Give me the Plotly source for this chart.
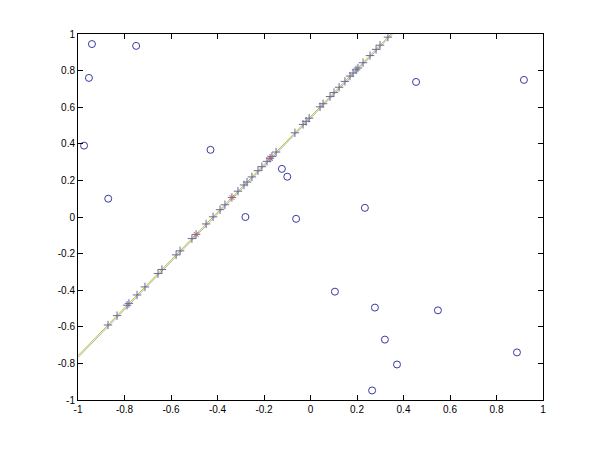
import plotly.graph_objects as go

# Outliers (open circles)
outlier_x = [-0.94, -0.953, -0.974, -0.87, -0.75, -0.43, -0.28, -0.123, -0.10, -0.062,
             0.454, 0.918, 0.234, 0.105, 0.277, 0.32, 0.372, 0.265, 0.548, 0.888]
outlier_y = [0.945, 0.76, 0.39, 0.10, 0.935, 0.367, 0.0, 0.263, 0.22, -0.01,
             0.738, 0.749, 0.05, -0.408, -0.495, -0.67, -0.806, -0.948, -0.51, -0.74]

# Inliers (plus markers along the line)
inlier_x = [-0.871, -0.832, -0.789, -0.781, -0.746, -0.712, -0.656, -0.639, -0.578, -0.561,
            -0.510, -0.492, -0.449, -0.419, -0.389, -0.368, -0.338, -0.312, -0.286, -0.273,
            -0.252, -0.226, -0.209, -0.187, -0.174, -0.166, -0.148, -0.067, -0.032, -0.019,
            -0.006, 0.041, 0.054, 0.084, 0.101, 0.123, 0.148, 0.170, 0.183, 0.196,
            0.204, 0.226, 0.256, 0.282, 0.299, 0.333]
inlier_y = [-0.590, -0.539, -0.482, -0.472, -0.426, -0.382, -0.309, -0.287, -0.207, -0.185,
            -0.118, -0.095, -0.038, 0.001, 0.040, 0.067, 0.107, 0.141, 0.175, 0.191,
            0.219, 0.253, 0.275, 0.304, 0.321, 0.331, 0.355, 0.460, 0.506, 0.523,
            0.540, 0.602, 0.619, 0.658, 0.680, 0.709, 0.741, 0.770, 0.787, 0.804,
            0.814, 0.843, 0.882, 0.916, 0.939, 0.983]

# A few highlighted points (red)
red_x = [-0.492, -0.338, -0.174]
red_y = [-0.095, 0.107, 0.321]

# Fitted lines
line_x = [-1.0, 1.0]
line_true_y = [-0.758, 1.854]
line_fit_y = [-0.768, 1.846]

tick_vals = [-1, -0.8, -0.6, -0.4, -0.2, 0, 0.2, 0.4, 0.6, 0.8, 1]
tick_text = ["-1", "-0.8", "-0.6", "-0.4", "-0.2", "0", "0.2", "0.4", "0.6", "0.8", "1"]

fig = go.Figure()
fig.add_trace(go.Scatter(x=line_x, y=line_true_y, mode="lines",
                         line=dict(color="#9acd32", width=1), showlegend=False))
fig.add_trace(go.Scatter(x=line_x, y=line_fit_y, mode="lines",
                         line=dict(color="#b07070", width=1), opacity=0.6, showlegend=False))
fig.add_trace(go.Scatter(x=outlier_x, y=outlier_y, mode="markers",
                         marker=dict(symbol="circle-open", size=7, color="#3838a0",
                                     line=dict(width=1)), showlegend=False))
fig.add_trace(go.Scatter(x=inlier_x, y=inlier_y, mode="markers",
                         marker=dict(symbol="cross-thin-open", size=6, color="#6a6a9a",
                                     line=dict(width=1, color="#6a6a9a")), showlegend=False))
fig.add_trace(go.Scatter(x=red_x, y=red_y, mode="markers",
                         marker=dict(symbol="x-thin-open", size=5, color="#c06060",
                                     line=dict(width=1, color="#c06060")), showlegend=False))

axis_common = dict(
    tickvals=tick_vals, ticktext=tick_text, ticks="inside", ticklen=5,
    tickcolor="black", showline=True, linecolor="black", linewidth=1,
    mirror="ticks", showgrid=False, zeroline=False,
    tickfont=dict(family="Liberation Sans, Arial", size=10, color="black"),
)

fig.update_layout(
    width=584, height=434,
    margin=dict(l=70, r=49, t=26, b=42),
    paper_bgcolor="white", plot_bgcolor="white",
    xaxis=dict(range=[-1, 1], **axis_common),
    yaxis=dict(range=[-1, 1], **axis_common),
)

fig.write_html("out.html")
